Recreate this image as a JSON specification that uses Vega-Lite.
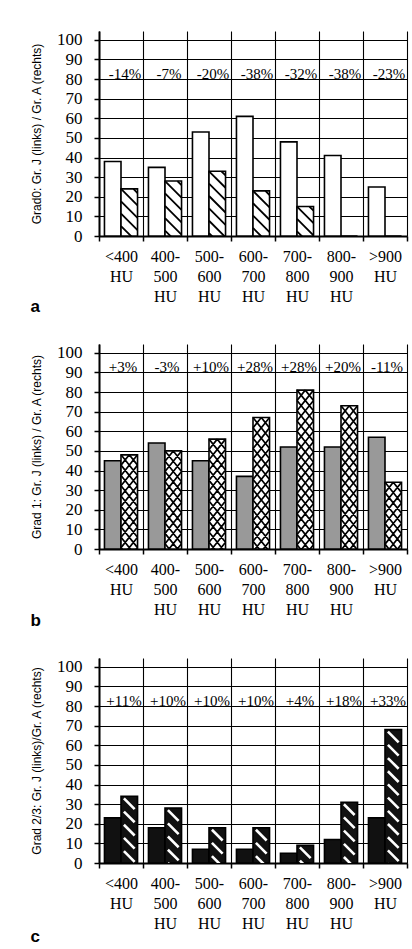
{
  "$schema": "https://vega.github.io/schema/vega-lite/v6.json",
  "padding": {"left": 30, "top": 30, "right": 3, "bottom": 0},
  "background": "white",
  "spacing": 28,
  "datasets": {
    "bars": [
      {"panel": "a", "cat": "<400 HU", "group": "J", "value": 38},
      {"panel": "a", "cat": "<400 HU", "group": "A", "value": 24},
      {"panel": "a", "cat": "400-500 HU", "group": "J", "value": 35},
      {"panel": "a", "cat": "400-500 HU", "group": "A", "value": 28},
      {"panel": "a", "cat": "500-600 HU", "group": "J", "value": 53},
      {"panel": "a", "cat": "500-600 HU", "group": "A", "value": 33},
      {"panel": "a", "cat": "600-700 HU", "group": "J", "value": 61},
      {"panel": "a", "cat": "600-700 HU", "group": "A", "value": 23},
      {"panel": "a", "cat": "700-800 HU", "group": "J", "value": 48},
      {"panel": "a", "cat": "700-800 HU", "group": "A", "value": 15},
      {"panel": "a", "cat": "800-900 HU", "group": "J", "value": 41},
      {"panel": "a", "cat": "800-900 HU", "group": "A", "value": 0},
      {"panel": "a", "cat": ">900 HU", "group": "J", "value": 25},
      {"panel": "a", "cat": ">900 HU", "group": "A", "value": 0},
      {"panel": "b", "cat": "<400 HU", "group": "J", "value": 45},
      {"panel": "b", "cat": "<400 HU", "group": "A", "value": 48},
      {"panel": "b", "cat": "400-500 HU", "group": "J", "value": 54},
      {"panel": "b", "cat": "400-500 HU", "group": "A", "value": 50},
      {"panel": "b", "cat": "500-600 HU", "group": "J", "value": 45},
      {"panel": "b", "cat": "500-600 HU", "group": "A", "value": 56},
      {"panel": "b", "cat": "600-700 HU", "group": "J", "value": 37},
      {"panel": "b", "cat": "600-700 HU", "group": "A", "value": 67},
      {"panel": "b", "cat": "700-800 HU", "group": "J", "value": 52},
      {"panel": "b", "cat": "700-800 HU", "group": "A", "value": 81},
      {"panel": "b", "cat": "800-900 HU", "group": "J", "value": 52},
      {"panel": "b", "cat": "800-900 HU", "group": "A", "value": 73},
      {"panel": "b", "cat": ">900 HU", "group": "J", "value": 57},
      {"panel": "b", "cat": ">900 HU", "group": "A", "value": 34},
      {"panel": "c", "cat": "<400 HU", "group": "J", "value": 23},
      {"panel": "c", "cat": "<400 HU", "group": "A", "value": 34},
      {"panel": "c", "cat": "400-500 HU", "group": "J", "value": 18},
      {"panel": "c", "cat": "400-500 HU", "group": "A", "value": 28},
      {"panel": "c", "cat": "500-600 HU", "group": "J", "value": 7},
      {"panel": "c", "cat": "500-600 HU", "group": "A", "value": 18},
      {"panel": "c", "cat": "600-700 HU", "group": "J", "value": 7},
      {"panel": "c", "cat": "600-700 HU", "group": "A", "value": 18},
      {"panel": "c", "cat": "700-800 HU", "group": "J", "value": 5},
      {"panel": "c", "cat": "700-800 HU", "group": "A", "value": 9},
      {"panel": "c", "cat": "800-900 HU", "group": "J", "value": 12},
      {"panel": "c", "cat": "800-900 HU", "group": "A", "value": 31},
      {"panel": "c", "cat": ">900 HU", "group": "J", "value": 23},
      {"panel": "c", "cat": ">900 HU", "group": "A", "value": 68}
    ],
    "changes": [
      {"panel": "a", "cat": "<400 HU", "change": "-14%"},
      {"panel": "a", "cat": "400-500 HU", "change": "-7%"},
      {"panel": "a", "cat": "500-600 HU", "change": "-20%"},
      {"panel": "a", "cat": "600-700 HU", "change": "-38%"},
      {"panel": "a", "cat": "700-800 HU", "change": "-32%"},
      {"panel": "a", "cat": "800-900 HU", "change": "-38%"},
      {"panel": "a", "cat": ">900 HU", "change": "-23%"},
      {"panel": "b", "cat": "<400 HU", "change": "+3%"},
      {"panel": "b", "cat": "400-500 HU", "change": "-3%"},
      {"panel": "b", "cat": "500-600 HU", "change": "+10%"},
      {"panel": "b", "cat": "600-700 HU", "change": "+28%"},
      {"panel": "b", "cat": "700-800 HU", "change": "+28%"},
      {"panel": "b", "cat": "800-900 HU", "change": "+20%"},
      {"panel": "b", "cat": ">900 HU", "change": "-11%"},
      {"panel": "c", "cat": "<400 HU", "change": "+11%"},
      {"panel": "c", "cat": "400-500 HU", "change": "+10%"},
      {"panel": "c", "cat": "500-600 HU", "change": "+10%"},
      {"panel": "c", "cat": "600-700 HU", "change": "+10%"},
      {"panel": "c", "cat": "700-800 HU", "change": "+4%"},
      {"panel": "c", "cat": "800-900 HU", "change": "+18%"},
      {"panel": "c", "cat": ">900 HU", "change": "+33%"}
    ]
  },
  "vconcat": [
    {
      "width": 308,
      "height": 205,
      "title": {"text": "a", "orient": "bottom", "anchor": "start", "frame": "bounds", "font": "Liberation Sans", "fontWeight": "bold", "fontSize": 17, "offset": -5, "color": "black"},
      "layer": [
        {"data": {"name": "bars"}, "transform": [{"filter": "datum.panel == 'a'"}],
         "mark": {"type": "bar", "stroke": "black", "strokeWidth": 1.6, "fill": "white"},
         "encoding": {
           "x": {"field": "cat", "type": "nominal", "sort": ["<400 HU", "400-500 HU", "500-600 HU", "600-700 HU", "700-800 HU", "800-900 HU", ">900 HU"], "scale": {"paddingInner": 0, "paddingOuter": 0},
             "axis": {"title": null, "tickBand": "extent", "grid": true, "labelAngle": 0, "labelExpr": "isValid(datum.value) ? split(replace(datum.value, '-', '- '), ' ') : ''", "labelLineHeight": 20, "labelPadding": 7, "tickSize": 5, "labelOverlap": false}},
           "xOffset": {"field": "group", "type": "nominal", "sort": ["J", "A"], "scale": {"paddingInner": 0, "paddingOuter": 0.33}},
           "y": {"field": "value", "type": "quantitative", "scale": {"domain": [0, 104.5], "nice": false, "zero": true},
             "axis": {"title": "Grad0: Gr. J (links) / Gr. A (rechts)", "values": [0, 10, 20, 30, 40, 50, 60, 70, 80, 90, 100], "grid": true}}
         }},
        {"data": {"name": "bars"}, "transform": [{"filter": "datum.panel == 'a' && datum.group == 'A' && datum.value > 0"}],
         "mark": {"type": "point", "clip": true, "filled": false, "opacity": 1, "stroke": "black", "strokeWidth": 1.8, "size": 272,
           "shape": "M0.5,0L1,0.5M-1,0L1,2M-1,1.5L1,3.5M-1,3L1,5M-1,4.5L1,6.5M-1,6L1,8M-1,7.5L1,9.5M-1,9L1,11M-1,10.5L1,12.5M-1,12L1,14M-1,13.5L1,15.5M-1,15L1,17M-1,16.5L1,18.5M-1,18L1,20M-1,19.5L1,21.5"},
         "encoding": {
           "x": {"field": "cat", "type": "nominal", "sort": ["<400 HU", "400-500 HU", "500-600 HU", "600-700 HU", "700-800 HU", "800-900 HU", ">900 HU"], "scale": {"paddingInner": 0, "paddingOuter": 0},
             "axis": {"title": null, "tickBand": "extent", "grid": true, "labelAngle": 0, "labelExpr": "isValid(datum.value) ? split(replace(datum.value, '-', '- '), ' ') : ''", "labelLineHeight": 20, "labelPadding": 7, "tickSize": 5, "labelOverlap": false}},
           "xOffset": {"field": "group", "type": "nominal", "sort": ["J", "A"], "scale": {"paddingInner": 0, "paddingOuter": 0.33}},
           "y": {"field": "value", "type": "quantitative", "scale": {"domain": [0, 104.5], "nice": false, "zero": true},
             "axis": {"title": "Grad0: Gr. J (links) / Gr. A (rechts)", "values": [0, 10, 20, 30, 40, 50, 60, 70, 80, 90, 100], "grid": true}}
         }},
        {"data": {"name": "changes"}, "transform": [{"filter": "datum.panel == 'a'"}],
         "mark": {"type": "text", "font": "Liberation Serif", "fontSize": 15, "baseline": "alphabetic", "align": "center", "dx": 4, "fill": "black"},
         "encoding": {
           "x": {"field": "cat", "type": "nominal", "sort": ["<400 HU", "400-500 HU", "500-600 HU", "600-700 HU", "700-800 HU", "800-900 HU", ">900 HU"], "scale": {"paddingInner": 0, "paddingOuter": 0},
             "axis": {"title": null, "tickBand": "extent", "grid": true, "labelAngle": 0, "labelExpr": "isValid(datum.value) ? split(replace(datum.value, '-', '- '), ' ') : ''", "labelLineHeight": 20, "labelPadding": 7, "tickSize": 5, "labelOverlap": false}},
           "y": {"datum": 80, "type": "quantitative", "scale": {"domain": [0, 104.5], "nice": false, "zero": true},
             "axis": {"title": "Grad0: Gr. J (links) / Gr. A (rechts)", "values": [0, 10, 20, 30, 40, 50, 60, 70, 80, 90, 100], "grid": true}},
           "text": {"field": "change", "type": "nominal"}
         }}
      ]
    },
    {
      "width": 308,
      "height": 205,
      "title": {"text": "b", "orient": "bottom", "anchor": "start", "frame": "bounds", "font": "Liberation Sans", "fontWeight": "bold", "fontSize": 17, "offset": -4, "color": "black"},
      "layer": [
        {"data": {"name": "bars"}, "transform": [{"filter": "datum.panel == 'b'"}],
         "mark": {"type": "bar", "stroke": "black", "strokeWidth": 1.6},
         "encoding": {
           "x": {"field": "cat", "type": "nominal", "sort": ["<400 HU", "400-500 HU", "500-600 HU", "600-700 HU", "700-800 HU", "800-900 HU", ">900 HU"], "scale": {"paddingInner": 0, "paddingOuter": 0},
             "axis": {"title": null, "tickBand": "extent", "grid": true, "labelAngle": 0, "labelExpr": "isValid(datum.value) ? split(replace(datum.value, '-', '- '), ' ') : ''", "labelLineHeight": 20, "labelPadding": 7, "tickSize": 5, "labelOverlap": false}},
           "xOffset": {"field": "group", "type": "nominal", "sort": ["J", "A"], "scale": {"paddingInner": 0, "paddingOuter": 0.33}},
           "y": {"field": "value", "type": "quantitative", "scale": {"domain": [0, 104.5], "nice": false, "zero": true},
             "axis": {"title": "Grad 1: Gr. J (links) / Gr. A (rechts)", "values": [0, 10, 20, 30, 40, 50, 60, 70, 80, 90, 100], "grid": true}},
           "fill": {"condition": {"test": "datum.group == 'J'", "value": "#999999"}, "value": "white"}
         }},
        {"data": {"name": "bars"}, "transform": [{"filter": "datum.panel == 'b' && datum.group == 'A' && datum.value > 0"}],
         "mark": {"type": "point", "clip": true, "filled": false, "opacity": 1, "stroke": "black", "strokeWidth": 1.7, "size": 272,
           "shape": "M0,0L1,1.25M-1,0L1,2.5M-1,1.25L1,3.75M-1,2.5L1,5M-1,3.75L1,6.25M-1,5L1,7.5M-1,6.25L1,8.75M-1,7.5L1,10M-1,8.75L1,11.25M-1,10L1,12.5M-1,11.25L1,13.75M-1,12.5L1,15M-1,13.75L1,16.25M-1,15L1,17.5M-1,16.25L1,18.75M-1,17.5L1,20M-1,18.75L1,21.25M-1,20L1,22.5M-1,1.25L0,0M-1,2.5L1,0M-1,3.75L1,1.25M-1,5L1,2.5M-1,6.25L1,3.75M-1,7.5L1,5M-1,8.75L1,6.25M-1,10L1,7.5M-1,11.25L1,8.75M-1,12.5L1,10M-1,13.75L1,11.25M-1,15L1,12.5M-1,16.25L1,13.75M-1,17.5L1,15M-1,18.75L1,16.25M-1,20L1,17.5M-1,21.25L1,18.75M-1,22.5L1,20"},
         "encoding": {
           "x": {"field": "cat", "type": "nominal", "sort": ["<400 HU", "400-500 HU", "500-600 HU", "600-700 HU", "700-800 HU", "800-900 HU", ">900 HU"], "scale": {"paddingInner": 0, "paddingOuter": 0},
             "axis": {"title": null, "tickBand": "extent", "grid": true, "labelAngle": 0, "labelExpr": "isValid(datum.value) ? split(replace(datum.value, '-', '- '), ' ') : ''", "labelLineHeight": 20, "labelPadding": 7, "tickSize": 5, "labelOverlap": false}},
           "xOffset": {"field": "group", "type": "nominal", "sort": ["J", "A"], "scale": {"paddingInner": 0, "paddingOuter": 0.33}},
           "y": {"field": "value", "type": "quantitative", "scale": {"domain": [0, 104.5], "nice": false, "zero": true},
             "axis": {"title": "Grad 1: Gr. J (links) / Gr. A (rechts)", "values": [0, 10, 20, 30, 40, 50, 60, 70, 80, 90, 100], "grid": true}}
         }},
        {"data": {"name": "changes"}, "transform": [{"filter": "datum.panel == 'b'"}],
         "mark": {"type": "text", "font": "Liberation Serif", "fontSize": 15, "baseline": "alphabetic", "align": "center", "dx": 2, "fill": "black"},
         "encoding": {
           "x": {"field": "cat", "type": "nominal", "sort": ["<400 HU", "400-500 HU", "500-600 HU", "600-700 HU", "700-800 HU", "800-900 HU", ">900 HU"], "scale": {"paddingInner": 0, "paddingOuter": 0},
             "axis": {"title": null, "tickBand": "extent", "grid": true, "labelAngle": 0, "labelExpr": "isValid(datum.value) ? split(replace(datum.value, '-', '- '), ' ') : ''", "labelLineHeight": 20, "labelPadding": 7, "tickSize": 5, "labelOverlap": false}},
           "y": {"datum": 90, "type": "quantitative", "scale": {"domain": [0, 104.5], "nice": false, "zero": true},
             "axis": {"title": "Grad 1: Gr. J (links) / Gr. A (rechts)", "values": [0, 10, 20, 30, 40, 50, 60, 70, 80, 90, 100], "grid": true}},
           "text": {"field": "change", "type": "nominal"}
         }}
      ]
    },
    {
      "width": 308,
      "height": 205,
      "title": {"text": "c", "orient": "bottom", "anchor": "start", "frame": "bounds", "font": "Liberation Sans", "fontWeight": "bold", "fontSize": 17, "offset": -2, "color": "black"},
      "layer": [
        {"data": {"name": "bars"}, "transform": [{"filter": "datum.panel == 'c'"}],
         "mark": {"type": "bar", "stroke": "black", "strokeWidth": 1.6, "fill": "#111111"},
         "encoding": {
           "x": {"field": "cat", "type": "nominal", "sort": ["<400 HU", "400-500 HU", "500-600 HU", "600-700 HU", "700-800 HU", "800-900 HU", ">900 HU"], "scale": {"paddingInner": 0, "paddingOuter": 0},
             "axis": {"title": null, "tickBand": "extent", "grid": true, "labelAngle": 0, "labelExpr": "isValid(datum.value) ? split(replace(datum.value, '-', '- '), ' ') : ''", "labelLineHeight": 20, "labelPadding": 7, "tickSize": 5, "labelOverlap": false}},
           "xOffset": {"field": "group", "type": "nominal", "sort": ["J", "A"], "scale": {"paddingInner": 0, "paddingOuter": 0.33}},
           "y": {"field": "value", "type": "quantitative", "scale": {"domain": [0, 104.5], "nice": false, "zero": true},
             "axis": {"title": "Grad 2/3: Gr. J (links)/Gr. A (rechts)", "values": [0, 10, 20, 30, 40, 50, 60, 70, 80, 90, 100], "grid": true}}
         }},
        {"data": {"name": "bars"}, "transform": [{"filter": "datum.panel == 'c' && datum.group == 'A' && datum.value > 0"}],
         "mark": {"type": "point", "clip": true, "filled": false, "opacity": 1, "stroke": "white", "strokeWidth": 2.6, "size": 272,
           "shape": "M-0.65,0.25L0.65,1.55M-0.65,1.85L0.65,3.15M-0.65,3.45L0.65,4.75M-0.65,5.05L0.65,6.35M-0.65,6.65L0.65,7.95M-0.65,8.25L0.65,9.55M-0.65,9.85L0.65,11.15M-0.65,11.45L0.65,12.75M-0.65,13.05L0.65,14.35M-0.65,14.65L0.65,15.95M-0.65,16.25L0.65,17.55M-0.65,17.85L0.65,19.15M-0.65,19.45L0.65,20.75"},
         "encoding": {
           "x": {"field": "cat", "type": "nominal", "sort": ["<400 HU", "400-500 HU", "500-600 HU", "600-700 HU", "700-800 HU", "800-900 HU", ">900 HU"], "scale": {"paddingInner": 0, "paddingOuter": 0},
             "axis": {"title": null, "tickBand": "extent", "grid": true, "labelAngle": 0, "labelExpr": "isValid(datum.value) ? split(replace(datum.value, '-', '- '), ' ') : ''", "labelLineHeight": 20, "labelPadding": 7, "tickSize": 5, "labelOverlap": false}},
           "xOffset": {"field": "group", "type": "nominal", "sort": ["J", "A"], "scale": {"paddingInner": 0, "paddingOuter": 0.33}},
           "y": {"field": "value", "type": "quantitative", "scale": {"domain": [0, 104.5], "nice": false, "zero": true},
             "axis": {"title": "Grad 2/3: Gr. J (links)/Gr. A (rechts)", "values": [0, 10, 20, 30, 40, 50, 60, 70, 80, 90, 100], "grid": true}}
         }},
        {"data": {"name": "changes"}, "transform": [{"filter": "datum.panel == 'c'"}],
         "mark": {"type": "text", "font": "Liberation Serif", "fontSize": 15, "baseline": "alphabetic", "align": "center", "dx": 3, "fill": "black"},
         "encoding": {
           "x": {"field": "cat", "type": "nominal", "sort": ["<400 HU", "400-500 HU", "500-600 HU", "600-700 HU", "700-800 HU", "800-900 HU", ">900 HU"], "scale": {"paddingInner": 0, "paddingOuter": 0},
             "axis": {"title": null, "tickBand": "extent", "grid": true, "labelAngle": 0, "labelExpr": "isValid(datum.value) ? split(replace(datum.value, '-', '- '), ' ') : ''", "labelLineHeight": 20, "labelPadding": 7, "tickSize": 5, "labelOverlap": false}},
           "y": {"datum": 80, "type": "quantitative", "scale": {"domain": [0, 104.5], "nice": false, "zero": true},
             "axis": {"title": "Grad 2/3: Gr. J (links)/Gr. A (rechts)", "values": [0, 10, 20, 30, 40, 50, 60, 70, 80, 90, 100], "grid": true}},
           "text": {"field": "change", "type": "nominal"}
         }}
      ]
    }
  ],
  "config": {
    "view": {"stroke": null},
    "axis": {
      "domainColor": "black", "domainWidth": 2, "tickColor": "black", "tickWidth": 1.5,
      "gridColor": "black", "gridWidth": 1.1, "gridOpacity": 1,
      "labelFont": "Liberation Serif", "labelFontSize": 16, "labelColor": "black",
      "titleFont": "Liberation Sans", "titleFontSize": 12, "titleFontWeight": "normal", "titleColor": "black"
    },
    "axisY": {"tickSize": 5, "labelPadding": 12, "titlePadding": 13, "labelFontSize": 17},
    "legend": {"disable": true}
  }
}
